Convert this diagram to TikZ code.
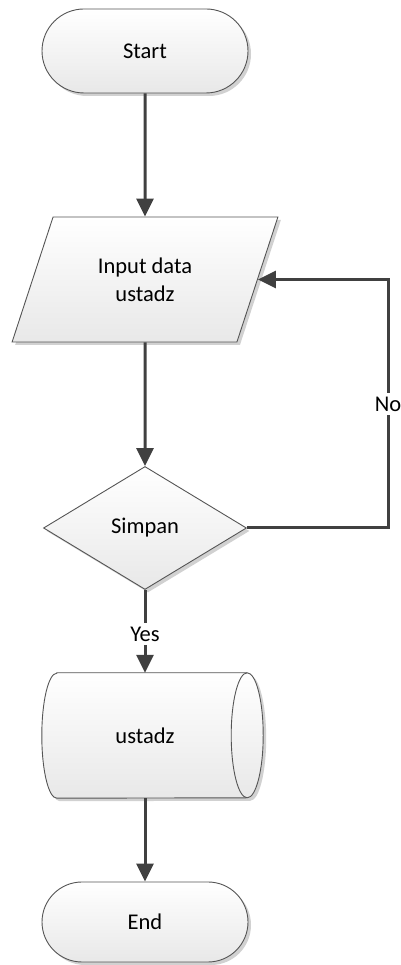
\documentclass[tikz,border=0pt]{standalone}
\usepackage{fontspec}
\setmainfont{Carlito}
\usetikzlibrary{shapes.geometric,shapes.misc,arrows.meta,shadows}
\definecolor{conncol}{HTML}{404040}
\definecolor{edgecol}{HTML}{555555}
\begin{document}
\begin{tikzpicture}[x=1pt,y=1pt,
  box/.style={draw=edgecol, line width=0.9pt, top color=white, bottom color=black!9,
    drop shadow={shadow xshift=3pt, shadow yshift=-3pt, fill=black!18, opacity=1},
    font=\fontsize{22.5}{28}\selectfont, align=center, inner sep=0pt},
  conn/.style={draw=conncol, line width=3pt, -{Triangle[length=18pt,width=17pt]}},
  line/.style={draw=conncol, line width=3pt},
  lbl/.style={fill=white, inner sep=4pt, font=\fontsize{22.5}{28}\selectfont}]
\useasboundingbox (0,0) rectangle (400,965);

\node[box, rounded rectangle, minimum width=206pt, minimum height=84pt] (start) at (145,914) {Start};
\node[box, trapezium, trapezium left angle=64.4, trapezium right angle=115.6, trapezium stretches=true,
  minimum width=266pt, minimum height=125pt] (inp) at (145,685.5) {Input data\\ustadz};
\node[box, diamond, minimum width=203pt, minimum height=123pt] (dec) at (145,437) {Simpan};
\node[minimum width=190pt, minimum height=125pt, inner sep=0pt] (db) at (152,229.5) {};
\node[box, rounded rectangle, minimum width=206pt, minimum height=80pt] (end) at (145,43) {End};

% cylinder
\fill[black!18] ([shift={(3,-3)}]db.north west) -- ([shift={(3,-3)}]db.north east)
  arc[start angle=90, end angle=-90, x radius=16, y radius=62.5]
  -- ([shift={(3,-3)}]db.south west)
  arc[start angle=270, end angle=90, x radius=15, y radius=62.5] -- cycle;
\path[draw=edgecol, line width=0.9pt, top color=white, bottom color=black!9]
  (db.north west) -- (db.north east)
  arc[start angle=90, end angle=-90, x radius=16, y radius=62.5]
  -- (db.south west)
  arc[start angle=270, end angle=90, x radius=15, y radius=62.5] -- cycle;
\draw[edgecol, line width=0.9pt] (db.north east) arc[start angle=90, end angle=270, x radius=16, y radius=62.5];
\node[font=\fontsize{22.5}{28}\selectfont] (dbt) at (145,229.5) {ustadz};

\coordinate (fbx) at (388,0);

\draw[conn] (start.south) -- (inp.north);
\draw[conn] (inp.south) -- (dec.north);
\draw[conn] (dec.east) -- (dec.east -| fbx) |- (inp.east);
\draw[conn] (dec.south) -- (dec.south |- db.north);
\draw[conn] (end.north |- db.south) -- (end.north);

\node[lbl] (no) at (388,561) {No};
\node[lbl] (yes) at (145,331) {Yes};
\end{tikzpicture}
\end{document}
